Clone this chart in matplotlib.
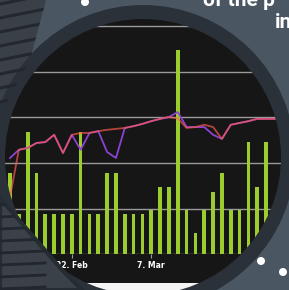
import numpy as np
import matplotlib
matplotlib.use("Agg")
import matplotlib.pyplot as plt
from matplotlib.patches import Circle, Polygon, Rectangle

# values (grid step = 1)
bar_vals = [1.78, 0.88, 2.68, 1.78, 0.88, 0.88, 0.88, 0.88, 2.68, 0.88,
            0.88, 1.78, 1.78, 0.88, 0.88, 0.88, 0.97, 1.47, 1.47, 4.48,
            0.97, 0.46, 0.97, 1.36, 1.78, 0.97, 0.97, 2.46, 1.47, 2.46]
purple_vals = [2.11, 2.29, 2.33, 2.44, 2.46, 2.62, 2.22, 2.62, 2.29, 2.66,
               2.70, 2.24, 2.11, 2.77, 2.81, 2.86, 2.92, 2.97, 3.01, 3.12,
               2.79, 2.79, 2.79, 2.62, 2.53, 2.84, 2.88, 2.92, 2.97, 2.97, 2.97]
orange_vals = [1.25, 2.29, 2.33, 2.44, 2.46, 2.62, 2.22, 2.62, 2.66, 2.66,
               2.70, 2.73, 2.75, 2.77, 2.81, 2.86, 2.92, 2.97, 3.01, 2.98,
               2.77, 2.79, 2.84, 2.79, 2.53, 2.84, 2.88, 2.92, 2.97, 2.97, 2.97]
tick_pos = [7, 16]
tick_labels = ["22. Feb", "7. Mar"]
grid_vals = [1, 2, 3, 4, 5]

W, H = 289, 290
fig = plt.figure(figsize=(W / 100, H / 100), dpi=100)
fig.patch.set_facecolor("#4b5663")

# background layer in pixel coords
bg = fig.add_axes([0, 0, 1, 1], zorder=0)
bg.set_xlim(0, W)
bg.set_ylim(H, 0)
bg.axis("off")

cx, cy, r_in, r_out = 143, 157, 138, 152

tex = Polygon([(0, 0), (46, 0), (30, 60), (0, 115)], closed=True,
              facecolor="#3a4048", edgecolor="none")
bg.add_patch(tex)
for k in range(9):
    y0 = k * 14 - 6
    ln, = bg.plot([0, 50], [y0 + 10, y0], color="#23282e", lw=2.2)
    ln.set_clip_path(tex)

bg.add_patch(Circle((cx, cy), r_out, facecolor="#2a3139", edgecolor="none"))
bg.add_patch(Circle((cx, cy), r_in, facecolor="#161616", edgecolor="none"))
clip = Circle((cx, cy), r_in, transform=bg.transData)
white = Rectangle((0, 283), W, 20, facecolor="#f4f4f4", edgecolor="none")
bg.add_patch(white)
white.set_clip_path(clip)

# chart layer
ax = fig.add_axes([0, (H - 254) / H, 1, 254 / H], zorder=1)
ax.patch.set_alpha(0)
x_bars = np.arange(len(bar_vals))
x_lines = np.arange(len(purple_vals))
ax.set_xlim(-10 / 8.83, (W - 10) / 8.83)
ax.set_ylim(0, 254 / 45.5)

for g in grid_vals:
    gl = ax.axhline(g, color="#9a9a9a", lw=1.0, zorder=1)
    gl.set_clip_path(clip)
base = ax.axhline(0, color="#8a8a8a", lw=1.0, zorder=1)
base.set_clip_path(clip)

bars = ax.bar(x_bars, bar_vals, width=0.42, color="#9ccd2e", zorder=2)
for b in bars:
    b.set_clip_path(clip)
l1, = ax.plot(x_lines, purple_vals, color="#8c42d4", lw=1.3, zorder=3)
l2, = ax.plot(x_lines, orange_vals, color="#ff5a4e", lw=1.3, alpha=0.68, zorder=4)
l1.set_clip_path(clip)
l2.set_clip_path(clip)

for s in ax.spines.values():
    s.set_visible(False)
ax.set_yticks([])
ax.set_xticks(tick_pos)
ax.set_xticklabels(tick_labels, color="white", fontsize=5.5, fontweight="bold")
ax.tick_params(axis="x", length=3, width=0.8, color="#9a9a9a", pad=2)

# foreground layer
fg = fig.add_axes([0, 0, 1, 1], zorder=2)
fg.set_xlim(0, W)
fg.set_ylim(H, 0)
fg.axis("off")
fg.patch.set_alpha(0)

low = Polygon([(0, 198), (62, 270), (82, 290), (0, 290)], closed=True,
              facecolor="#3a4149", edgecolor="#262c33", lw=3)
fg.add_patch(low)
for k in range(8):
    y0 = 205 + k * 12
    ln, = fg.plot([0, 45], [y0, y0 - 2], color="#22272d", lw=2.0)
    ln.set_clip_path(low)

for (px, py) in [(85, 2), (261, 261), (283, 272)]:
    fg.add_patch(Circle((px, py), 4, facecolor="white", edgecolor="none"))

fg.text(203, 6, "of the p", color="white", fontsize=15, fontweight="bold",
        family="Roboto", va="baseline", ha="left")
fg.text(275, 28, "in", color="white", fontsize=15, fontweight="bold",
        family="Roboto", va="baseline", ha="left")

fig.savefig("out.png", dpi=100, facecolor=fig.get_facecolor())
